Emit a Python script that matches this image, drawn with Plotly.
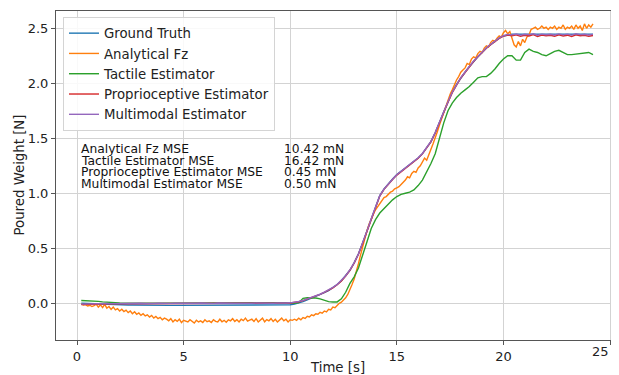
import numpy as np
import plotly.graph_objects as go

# ---------------- data ----------------
series_names = ["Ground Truth", "Analytical Fz", "Tactile Estimator",
                "Proprioceptive Estimator", "Multimodal Estimator"]
series_colors = ["#1f77b4", "#ff7f0e", "#2ca02c", "#d62728", "#9467bd"]

# 0.2 s sampling, t = 0.2 ... 24.2
ground_truth = [
    0.000, -0.002, -0.004, -0.006, -0.008, -0.010, -0.011, -0.012, -0.013, -0.014,
    -0.015, -0.016, -0.016, -0.017, -0.017, -0.018, -0.018, -0.018, -0.019, -0.019,
    -0.019, -0.019, -0.019, -0.019, -0.019, -0.019, -0.019, -0.019, -0.019, -0.019,
    -0.019, -0.019, -0.019, -0.018, -0.018, -0.018, -0.018, -0.018, -0.018, -0.018,
    -0.018, -0.018, -0.018, -0.018, -0.017, -0.017, -0.017, -0.017, -0.016, -0.014,
    -0.008, 0.002, 0.015, 0.030, 0.045, 0.060, 0.078, 0.096, 0.115, 0.140,
    0.170, 0.205, 0.250, 0.300, 0.370, 0.450, 0.550, 0.660, 0.770, 0.880,
    0.980, 1.040, 1.090, 1.130, 1.170, 1.200, 1.230, 1.260, 1.290, 1.320,
    1.360, 1.410, 1.470, 1.550, 1.650, 1.740, 1.830, 1.920, 1.990, 2.050,
    2.100, 2.150, 2.200, 2.240, 2.280, 2.320, 2.350, 2.380, 2.410, 2.430,
    2.440, 2.445, 2.445, 2.445, 2.445, 2.445, 2.445, 2.445, 2.445, 2.445,
    2.445, 2.445, 2.445, 2.445, 2.445, 2.445, 2.445, 2.445, 2.445, 2.445,
    2.445,
]

tactile = [
    0.025, 0.024, 0.022, 0.020, 0.017, 0.013, 0.009, 0.006, 0.004, 0.002,
    0.001, 0.000, 0.000, -0.001, 0.000, 0.000, -0.001, 0.000, 0.000, 0.000,
    0.000, -0.001, 0.000, 0.000, 0.000, -0.001, 0.000, 0.000, 0.000, 0.000,
    0.000, 0.000, 0.001, 0.000, 0.000, 0.001, 0.000, 0.001, 0.001, 0.001,
    0.002, 0.002, 0.003, 0.004, 0.005, 0.006, 0.007, 0.006, 0.005, 0.003,
    0.000, 0.005, 0.045, 0.050, 0.050, 0.048, 0.040, 0.025, 0.015, 0.012,
    0.012, 0.040, 0.100, 0.180, 0.240, 0.320, 0.430, 0.560, 0.680, 0.760,
    0.820, 0.860, 0.900, 0.940, 0.970, 0.990, 1.000, 1.010, 1.030, 1.070,
    1.120, 1.190, 1.270, 1.360, 1.500, 1.640, 1.750, 1.820, 1.870, 1.910,
    1.940, 1.970, 2.010, 2.050, 2.060, 2.060, 2.090, 2.130, 2.180, 2.220,
    2.250, 2.250, 2.210, 2.210, 2.280, 2.310, 2.290, 2.280, 2.260, 2.250,
    2.270, 2.290, 2.300, 2.280, 2.260, 2.260, 2.265, 2.270, 2.275, 2.280,
    2.260,
]

proprioceptive = [
    -0.012, -0.010, -0.008, -0.007, -0.006, -0.006, -0.005, -0.005, -0.005, -0.004,
    -0.004, -0.004, -0.004, -0.004, -0.003, -0.003, -0.003, -0.003, -0.003, -0.003,
    -0.003, -0.003, -0.002, -0.003, -0.002, -0.002, -0.003, -0.002, -0.002, -0.002,
    -0.002, -0.002, -0.001, -0.002, -0.001, -0.001, -0.002, -0.001, -0.001, -0.001,
    -0.001, -0.001, 0.000, -0.001, 0.000, 0.000, 0.000, 0.000, 0.001, 0.002,
    0.006, 0.014, 0.024, 0.037, 0.050, 0.064, 0.080, 0.098, 0.118, 0.140,
    0.168, 0.203, 0.248, 0.300, 0.365, 0.445, 0.545, 0.655, 0.765, 0.875,
    0.975, 1.035, 1.085, 1.125, 1.165, 1.195, 1.228, 1.258, 1.288, 1.318,
    1.358, 1.408, 1.468, 1.548, 1.645, 1.738, 1.828, 1.915, 1.988, 2.048,
    2.098, 2.150, 2.198, 2.240, 2.280, 2.318, 2.350, 2.380, 2.408, 2.428,
    2.438, 2.432, 2.440, 2.428, 2.436, 2.430, 2.442, 2.426, 2.438, 2.432,
    2.436, 2.428, 2.440, 2.430, 2.437, 2.425, 2.440, 2.432, 2.435, 2.428,
    2.434,
]

multimodal = [
    -0.008, -0.006, -0.004, -0.005, -0.003, -0.004, -0.002, -0.003, -0.002, -0.003,
    -0.002, 0.000, -0.003, -0.001, 0.000, -0.002, 0.001, -0.001, 0.000, -0.002,
    0.000, -0.001, 0.001, -0.002, 0.000, 0.001, -0.001, 0.000, 0.002, -0.001,
    0.001, -0.001, 0.002, 0.000, -0.001, 0.002, 0.000, 0.001, -0.001, 0.002,
    0.000, 0.002, 0.001, -0.001, 0.002, 0.000, 0.003, 0.001, 0.002, 0.004,
    0.008, 0.016, 0.026, 0.040, 0.052, 0.068, 0.082, 0.102, 0.120, 0.144,
    0.170, 0.207, 0.250, 0.304, 0.368, 0.448, 0.548, 0.658, 0.768, 0.878,
    0.978, 1.038, 1.088, 1.128, 1.168, 1.198, 1.232, 1.262, 1.292, 1.322,
    1.362, 1.412, 1.472, 1.552, 1.650, 1.742, 1.832, 1.920, 1.992, 2.052,
    2.102, 2.154, 2.202, 2.244, 2.284, 2.322, 2.354, 2.384, 2.412, 2.432,
    2.444, 2.440, 2.448, 2.438, 2.446, 2.442, 2.450, 2.437, 2.447, 2.441,
    2.446, 2.439, 2.449, 2.440, 2.447, 2.438, 2.450, 2.442, 2.446, 2.439,
    2.445,
]

# 0.1 s sampling, t = 0.2 ... 24.2
analytical_fz = [
    -0.005, -0.015, -0.012, -0.025, -0.018, -0.030, -0.022, -0.008, -0.035, -0.015,
    -0.040, -0.010, -0.045, -0.030, -0.055, -0.035, -0.060, -0.048, -0.070, -0.055,
    -0.075, -0.062, -0.085, -0.070, -0.095, -0.078, -0.100, -0.088, -0.110, -0.095,
    -0.115, -0.105, -0.125, -0.110, -0.135, -0.120, -0.140, -0.128, -0.150, -0.135,
    -0.145, -0.160, -0.140, -0.170, -0.150, -0.165, -0.145, -0.175, -0.155, -0.160,
    -0.170, -0.150, -0.165, -0.180, -0.155, -0.170, -0.160, -0.175, -0.150, -0.168,
    -0.160, -0.175, -0.150, -0.165, -0.170, -0.145, -0.168, -0.155, -0.172, -0.150,
    -0.160, -0.140, -0.165, -0.150, -0.170, -0.145, -0.158, -0.135, -0.162, -0.150,
    -0.145, -0.165, -0.140, -0.170, -0.150, -0.135, -0.168, -0.148, -0.160, -0.140,
    -0.165, -0.145, -0.170, -0.150, -0.135, -0.160, -0.145, -0.170, -0.150, -0.155,
    -0.145, -0.155, -0.135, -0.150, -0.130, -0.138, -0.118, -0.125, -0.105, -0.112,
    -0.095, -0.100, -0.082, -0.090, -0.070, -0.078, -0.055, -0.060, -0.035, -0.040,
    -0.015, 0.000, 0.010, 0.030, 0.050, 0.080, 0.120, 0.170, 0.220, 0.280,
    0.360, 0.440, 0.520, 0.600, 0.660, 0.720, 0.770, 0.810, 0.850, 0.880,
    0.910, 0.930, 0.960, 0.970, 0.990, 1.010, 1.020, 1.040, 1.050, 1.060,
    1.080, 1.100, 1.120, 1.150, 1.140, 1.180, 1.200, 1.190, 1.230, 1.250,
    1.280, 1.320, 1.300, 1.360, 1.400, 1.450, 1.500, 1.560, 1.620, 1.680,
    1.740, 1.790, 1.840, 1.900, 1.940, 1.990, 2.030, 2.060, 2.100, 2.120,
    2.140, 2.180, 2.170, 2.220, 2.240, 2.230, 2.270, 2.290, 2.280, 2.320,
    2.340, 2.330, 2.370, 2.390, 2.380, 2.410, 2.430, 2.420, 2.460, 2.480,
    2.450, 2.470, 2.400, 2.350, 2.330, 2.380, 2.340, 2.400, 2.370, 2.420,
    2.440, 2.490, 2.500, 2.510, 2.490, 2.500, 2.520, 2.500, 2.510, 2.490,
    2.510, 2.500, 2.520, 2.490, 2.510, 2.500, 2.530, 2.490, 2.510, 2.500,
    2.520, 2.490, 2.530, 2.500, 2.520, 2.480, 2.540, 2.500, 2.530, 2.510, 2.540,
]

mse_labels = ["Analytical Fz MSE", "Tactile Estimator MSE",
              "Proprioceptive Estimator MSE", "Multimodal Estimator MSE"]
mse_values = ["10.42 mN", "16.42 mN", "0.45 mN", "0.50 mN"]

x_ticks = [0, 5, 10, 15, 20, 25]
y_ticks = [0.0, 0.5, 1.0, 1.5, 2.0, 2.5]

# ---------------- figure ----------------
def times(values, step):
    return np.round(0.2 + step * np.arange(len(values)), 2)

all_series = [
    (ground_truth, 0.2),
    (analytical_fz, 0.1),
    (tactile, 0.2),
    (proprioceptive, 0.2),
    (multimodal, 0.2),
]

FONT = "DejaVu Sans"
fig = go.Figure()
for (vals, step), name, color in zip(all_series, series_names, series_colors):
    fig.add_trace(go.Scatter(
        x=times(vals, step), y=vals, mode="lines", name=name,
        line=dict(color=color, width=1.4),
    ))

# the page body has an 8 px margin, so the figure is drawn 8 px in from the
# top-left corner of the window; all page-pixel positions are shifted by OFF
OFF = 8
W, H = 619 - OFF, 375 - OFF
L, R, T, B = 56 - OFF, 0, 11 - OFF, 375 - 340
pw, ph = W - L - R, H - T - B


def px(xpage):
    return (xpage - OFF - L) / pw


def py(ypage):
    return 1 - (ypage - OFF - T) / ph


fig.update_layout(
    width=W, height=H, autosize=False,
    margin=dict(l=L, r=R, t=T, b=B, autoexpand=False),
    paper_bgcolor="white", plot_bgcolor="white",
    font=dict(family=FONT, size=13, color="#222222"),
    showlegend=True,
    legend=dict(
        x=px(63), y=py(17), xanchor="left", yanchor="top",
        bgcolor="rgba(255,255,255,0.85)", bordercolor="#d4d4d4", borderwidth=1,
        font=dict(family=FONT, size=13.3, color="#222222"),
        tracegroupgap=0, itemwidth=30,
    ),
)
# the last x tick label sits right at the visible edge of the window; it is
# drawn as an annotation that ends just inside the visible area
x_ticktext = [str(v) for v in x_ticks[:-1]] + [""]
fig.update_xaxes(
    range=[-0.985, 25.42], tickvals=x_ticks, ticktext=x_ticktext,
    showgrid=True, gridcolor="#d3d3d3", gridwidth=1,
    showline=True, linecolor="#555555", linewidth=1, mirror=True,
    ticks="outside", ticklen=4, tickcolor="#555555",
    zeroline=False, automargin=False, ticklabeloverflow="allow",
    tickfont=dict(family=FONT, size=13),
)
fig.add_annotation(x=px(611), xref="paper", y=py(352), yref="paper",
                   text=str(x_ticks[-1]), showarrow=False,
                   xanchor="right", yanchor="middle",
                   font=dict(family=FONT, size=13, color="#222222"))
fig.update_yaxes(
    range=[-0.334, 2.657], tickvals=y_ticks, ticktext=[f"{v:.1f}" for v in y_ticks],
    showgrid=True, gridcolor="#d3d3d3", gridwidth=1,
    showline=True, linecolor="#555555", linewidth=1, mirror=False,
    ticks="outside", ticklen=4, tickcolor="#555555",
    zeroline=False, automargin=False, ticklabeloverflow="allow",
    tickfont=dict(family=FONT, size=13),
)

# axis titles as annotations so they sit exactly where the reference has them
fig.add_annotation(x=0.5, y=py(367), xref="paper", yref="paper",
                   text="Time [s]", showarrow=False, xanchor="center", yanchor="middle",
                   font=dict(family=FONT, size=13.3, color="#222222"))
fig.add_annotation(x=px(19), y=0.5, xref="paper", yref="paper",
                   text="Poured Weight [N]", showarrow=False, textangle=-90,
                   xanchor="center", yanchor="middle",
                   font=dict(family=FONT, size=13.3, color="#222222"))

# MSE text block (one annotation per line)
line_y = [149, 160.5, 172, 183.5]
for lab, val, yp in zip(mse_labels, mse_values, line_y):
    fig.add_annotation(x=px(79), y=py(yp), xref="paper", yref="paper",
                       text=lab, showarrow=False, xanchor="left", yanchor="middle",
                       font=dict(family=FONT, size=12.3, color="#111111"))
    fig.add_annotation(x=px(282), y=py(yp), xref="paper", yref="paper",
                       text=val, showarrow=False, xanchor="left", yanchor="middle",
                       font=dict(family=FONT, size=12.3, color="#111111"))

fig.write_html("out.html", default_width=f"{W}px", default_height=f"{H}px")
